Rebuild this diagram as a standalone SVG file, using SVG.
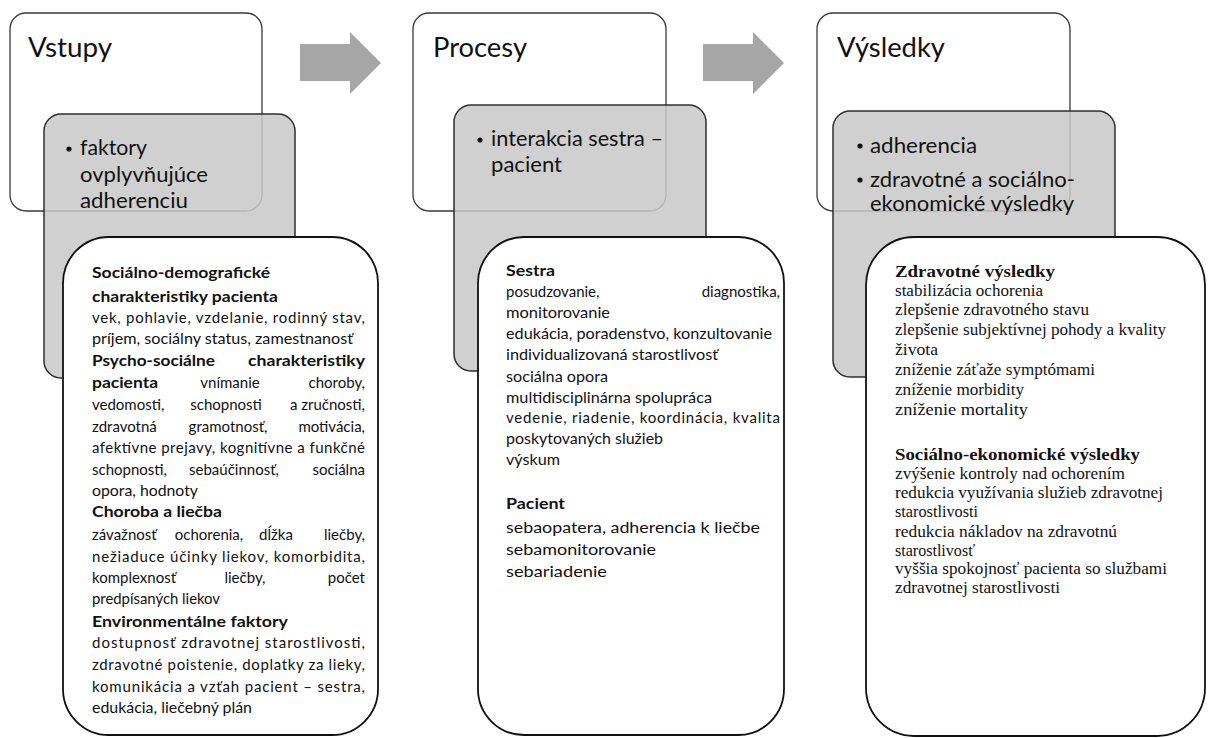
<svg xmlns="http://www.w3.org/2000/svg" width="1208" height="738" viewBox="0 0 1208 738">
  <style>
    .outer { fill: #ffffff; stroke: #3a3a3a; stroke-width: 1.3; }
    .band { fill: #c8c8c8; fill-opacity: 0.86; stroke: #2e2e2e; stroke-width: 1.5; }
    .detail { fill: #ffffff; stroke: #111111; stroke-width: 1.8; }
    .flow { fill: #a6a6a6; }
    .title { font-family: Lato, "Open Sans", sans-serif; font-size: 27px; fill: #111; }
    .head { font-family: Lato, "Open Sans", sans-serif; font-size: 21px; fill: #111; }
    .body { font-family: Lato, "Open Sans", sans-serif; font-size: 15px; fill: #111; }
    .bodyL { font-family: Lato, "Open Sans", sans-serif; font-size: 16px; fill: #111; }
    .b { font-weight: bold; }
    .serif { font-family: "Liberation Serif", "Times New Roman", serif; font-size: 16px; fill: #111; }
    .serifB { font-family: "Liberation Serif", "Times New Roman", serif; font-size: 17px; font-weight: bold; fill: #111; }
    .mid { text-anchor: middle; }
    .end { text-anchor: end; }
  </style>

  <!-- block arrows between the stages -->
  <g id="connectors">
    <polygon class="flow" points="300,44 350,44 350,32 381,63 350,94 350,81 300,81"/>
    <polygon class="flow" points="703,44 753,44 753,32 784,63 753,94 753,81 703,81"/>
  </g>

  <!-- Stage 1: inputs -->
  <g id="vstupy">
    <rect class="outer" x="10" y="13" width="252" height="198" rx="16"/>
    <text class="title" x="28" y="57" textLength="84" lengthAdjust="spacingAndGlyphs">Vstupy</text>
    <rect class="band" x="44" y="114" width="251" height="264" rx="17"/>
    <circle cx="69" cy="149" r="2.6" fill="#111"/>
    <text class="head" x="80" y="155" textLength="67" lengthAdjust="spacingAndGlyphs">faktory</text>
    <text class="head" x="80" y="182" textLength="128" lengthAdjust="spacingAndGlyphs">ovplyvňujúce</text>
    <text class="head" x="80" y="208" textLength="108" lengthAdjust="spacingAndGlyphs">adherenciu</text>
    <rect class="detail" x="63" y="237" width="315" height="498" rx="46"/>
    <g class="body">
      <text class="b" x="92" y="278" textLength="178" lengthAdjust="spacingAndGlyphs">Sociálno-demografické</text>
      <text class="b" x="92" y="302" textLength="186" lengthAdjust="spacingAndGlyphs">charakteristiky pacienta</text>
      <text x="92" y="323" textLength="273" lengthAdjust="spacing">vek, pohlavie, vzdelanie, rodinný stav,</text>
      <text x="92" y="344" textLength="261" lengthAdjust="spacingAndGlyphs">príjem, sociálny status, zamestnanosť</text>
      <text class="b" x="92" y="366" textLength="123" lengthAdjust="spacingAndGlyphs">Psycho-sociálne</text>
      <text class="b" x="248" y="366" textLength="117" lengthAdjust="spacingAndGlyphs">charakteristiky</text>
      <text class="b" x="92" y="388" textLength="66" lengthAdjust="spacingAndGlyphs">pacienta</text>
      <text class="mid" x="230" y="388">vnímanie</text>
      <text class="end" x="365" y="388">choroby,</text>
      <text x="92" y="410">vedomosti,</text>
      <text class="mid" x="226" y="410">schopnosti</text>
      <text class="end" x="365" y="410">a zručnosti,</text>
      <text x="92" y="432">zdravotná</text>
      <text class="mid" x="228" y="432">gramotnosť,</text>
      <text class="end" x="365" y="432">motivácia,</text>
      <text x="92" y="453" textLength="273" lengthAdjust="spacing">afektívne prejavy, kognitívne a funkčné</text>
      <text x="92" y="475">schopnosti,</text>
      <text class="mid" x="234" y="475">sebaúčinnosť,</text>
      <text class="end" x="365" y="475">sociálna</text>
      <text x="92" y="496" textLength="106" lengthAdjust="spacingAndGlyphs">opora, hodnoty</text>
      <text class="b" x="92" y="517" textLength="130" lengthAdjust="spacingAndGlyphs">Choroba a liečba</text>
      <text x="92" y="540">závažnosť</text>
      <text class="mid" x="209" y="540">ochorenia,</text>
      <text class="mid" x="276" y="540">dĺžka</text>
      <text class="end" x="365" y="540">liečby,</text>
      <text x="92" y="562" textLength="273" lengthAdjust="spacing">nežiaduce účinky liekov, komorbidita,</text>
      <text x="92" y="583">komplexnosť</text>
      <text class="mid" x="245" y="583">liečby,</text>
      <text class="end" x="365" y="583">počet</text>
      <text x="92" y="604" textLength="128" lengthAdjust="spacingAndGlyphs">predpísaných liekov</text>
      <text class="b" x="92" y="627" textLength="196" lengthAdjust="spacingAndGlyphs">Environmentálne faktory</text>
      <text x="92" y="648" textLength="273" lengthAdjust="spacing">dostupnosť zdravotnej starostlivosti,</text>
      <text x="92" y="670" textLength="273" lengthAdjust="spacing">zdravotné poistenie, doplatky za lieky,</text>
      <text x="92" y="692" textLength="273" lengthAdjust="spacing">komunikácia a vzťah pacient – sestra,</text>
      <text x="92" y="713" textLength="160" lengthAdjust="spacingAndGlyphs">edukácia, liečebný plán</text>
    </g>
  </g>

  <!-- Stage 2: processes -->
  <g id="procesy">
    <rect class="outer" x="413" y="13" width="253" height="198" rx="16"/>
    <text class="title" x="433" y="57" textLength="94" lengthAdjust="spacingAndGlyphs">Procesy</text>
    <rect class="band" x="454" y="105" width="252" height="266" rx="17"/>
    <circle cx="480" cy="140" r="2.6" fill="#111"/>
    <text class="head" x="491" y="146" textLength="172" lengthAdjust="spacingAndGlyphs">interakcia sestra –</text>
    <text class="head" x="491" y="172" textLength="71" lengthAdjust="spacingAndGlyphs">pacient</text>
    <rect class="detail" x="478" y="237" width="306" height="498" rx="46"/>
    <g class="body">
      <text class="b" x="506" y="276" textLength="49" lengthAdjust="spacingAndGlyphs">Sestra</text>
      <text x="506" y="297">posudzovanie,</text>
      <text class="end" x="780" y="297">diagnostika,</text>
      <text x="506" y="318" textLength="104" lengthAdjust="spacingAndGlyphs">monitorovanie</text>
      <text x="506" y="339" textLength="266" lengthAdjust="spacingAndGlyphs">edukácia, poradenstvo, konzultovanie</text>
      <text x="506" y="360" textLength="212" lengthAdjust="spacingAndGlyphs">individualizovaná starostlivosť</text>
      <text x="506" y="382" textLength="102" lengthAdjust="spacingAndGlyphs">sociálna opora</text>
      <text x="506" y="403" textLength="206" lengthAdjust="spacingAndGlyphs">multidisciplinárna spolupráca</text>
      <text x="506" y="423" textLength="274" lengthAdjust="spacing">vedenie, riadenie, koordinácia, kvalita</text>
      <text x="506" y="444" textLength="157" lengthAdjust="spacingAndGlyphs">poskytovaných služieb</text>
      <text x="506" y="465" textLength="54" lengthAdjust="spacingAndGlyphs">výskum</text>
    </g>
    <g class="bodyL">
      <text class="b" x="506" y="509" textLength="59" lengthAdjust="spacingAndGlyphs">Pacient</text>
      <text x="506" y="533" textLength="254" lengthAdjust="spacingAndGlyphs">sebaopatera, adherencia k liečbe</text>
      <text x="506" y="555" textLength="150" lengthAdjust="spacingAndGlyphs">sebamonitorovanie</text>
      <text x="506" y="577" textLength="101" lengthAdjust="spacingAndGlyphs">sebariadenie</text>
    </g>
  </g>

  <!-- Stage 3: outcomes -->
  <g id="vysledky">
    <rect class="outer" x="817" y="13" width="253" height="198" rx="16"/>
    <text class="title" x="837" y="57" textLength="108" lengthAdjust="spacingAndGlyphs">Výsledky</text>
    <rect class="band" x="833" y="111" width="282" height="266" rx="17"/>
    <circle cx="860" cy="146" r="2.6" fill="#111"/>
    <text class="head" x="870" y="153" textLength="107" lengthAdjust="spacingAndGlyphs">adherencia</text>
    <circle cx="860" cy="180" r="2.6" fill="#111"/>
    <text class="head" x="870" y="187" textLength="205" lengthAdjust="spacingAndGlyphs">zdravotné a sociálno-</text>
    <text class="head" x="870" y="211" textLength="204" lengthAdjust="spacingAndGlyphs">ekonomické výsledky</text>
    <rect class="detail" x="866" y="237" width="339" height="499" rx="48"/>
    <text class="serifB" x="895" y="277" textLength="160" lengthAdjust="spacingAndGlyphs">Zdravotné výsledky</text>
    <g class="serif">
      <text x="895" y="296" textLength="148" lengthAdjust="spacingAndGlyphs">stabilizácia ochorenia</text>
      <text x="895" y="315" textLength="194" lengthAdjust="spacingAndGlyphs">zlepšenie zdravotného stavu</text>
      <text x="895" y="335" textLength="271" lengthAdjust="spacingAndGlyphs">zlepšenie subjektívnej pohody a kvality</text>
      <text x="895" y="355" textLength="43" lengthAdjust="spacingAndGlyphs">života</text>
      <text x="895" y="375" textLength="200" lengthAdjust="spacingAndGlyphs">zníženie záťaže symptómami</text>
      <text x="895" y="395" textLength="129" lengthAdjust="spacingAndGlyphs">zníženie morbidity</text>
      <text x="895" y="415" textLength="133" lengthAdjust="spacingAndGlyphs">zníženie mortality</text>
    </g>
    <text class="serifB" x="895" y="460" textLength="245" lengthAdjust="spacingAndGlyphs">Sociálno-ekonomické výsledky</text>
    <g class="serif">
      <text x="895" y="479" textLength="230" lengthAdjust="spacingAndGlyphs">zvýšenie kontroly nad ochorením</text>
      <text x="895" y="498" textLength="268" lengthAdjust="spacingAndGlyphs">redukcia využívania služieb zdravotnej</text>
      <text x="895" y="517" textLength="83" lengthAdjust="spacingAndGlyphs">starostlivosti</text>
      <text x="895" y="537" textLength="222" lengthAdjust="spacingAndGlyphs">redukcia nákladov na zdravotnú</text>
      <text x="895" y="556" textLength="80" lengthAdjust="spacingAndGlyphs">starostlivosť</text>
      <text x="895" y="574" textLength="272" lengthAdjust="spacingAndGlyphs">vyššia spokojnosť pacienta so službami</text>
      <text x="895" y="593" textLength="165" lengthAdjust="spacingAndGlyphs">zdravotnej starostlivosti</text>
    </g>
  </g>
</svg>
